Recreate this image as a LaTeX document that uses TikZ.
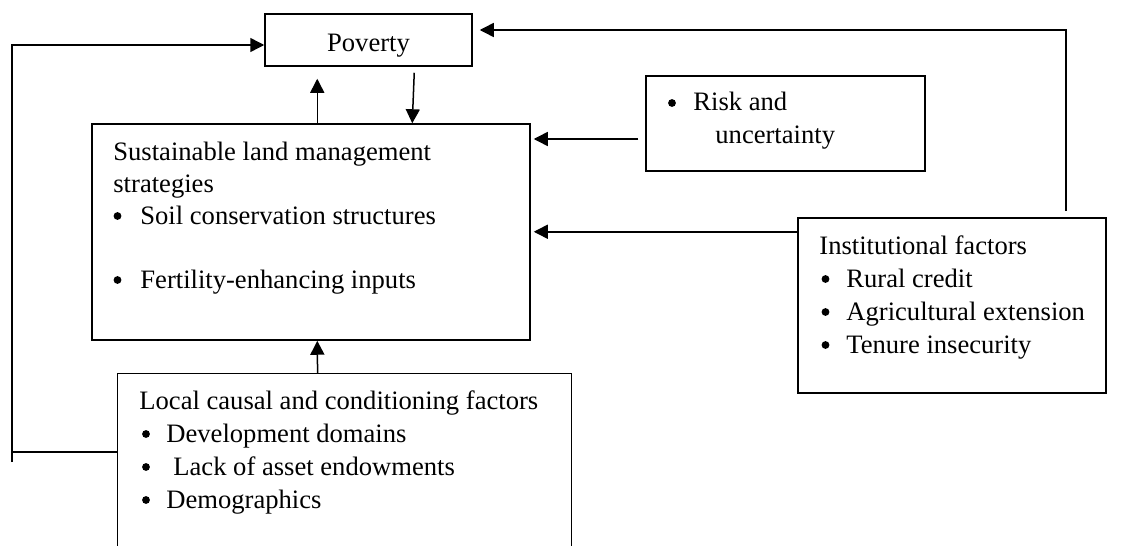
\documentclass[tikz,border=0pt]{standalone}
\usepackage{fontspec}
\setmainfont{Liberation Serif}
\usetikzlibrary{arrows.meta,calc}
\begin{document}
\begin{tikzpicture}[x=0.5pt,y=-0.5pt,
  box/.style={draw,line width=0.75pt,inner sep=0pt},
  openbox/.style={inner sep=0pt},
  arr/.style={line width=0.75pt,-{Triangle[length=7pt,width=7pt]}},
  conn/.style={line width=0.75pt},
  bul/.style={circle,fill,inner sep=0pt,minimum size=3.9pt},
  txt/.style={anchor=base west,inner sep=0pt,font=\fontsize{13.3}{16.5}\selectfont},
  ctxt/.style={anchor=base,inner sep=0pt,font=\fontsize{13.3}{16.5}\selectfont}]
\useasboundingbox (0,0) rectangle (1121,546);
% boxes
\node[box,minimum width=103.5pt,minimum height=26pt] (pov) at (368.5,40) {};
\node[box,minimum width=219pt,minimum height=108pt] (slm) at (311,232) {};
\node[box,minimum width=139.5pt,minimum height=47.5pt] (risk) at (785.5,123.5) {};
\node[box,minimum width=154pt,minimum height=87.5pt] (inst) at (952,305.5) {};
\node[openbox,minimum width=226.5pt,minimum height=86pt] (local) at (344.5,460) {};
\draw[conn] (local.south west) -- (local.north west) -- (local.north east) -- (local.south east);
% texts
\node[ctxt] (tpov) at (368.5,51) {Poverty};
\node[txt] (s1) at (113,160) {Sustainable land management};
\node[txt] (s2) at (113,192) {strategies};
\node[bul] (s3b) at (117.5,216) {};
\node[txt] (s3) at (140,224) {Soil conservation structures};
\node[bul] (s4b) at (117.5,280) {};
\node[txt] (s4) at (140,288) {Fertility-enhancing inputs};
\node[bul] (r1b) at (672,103) {};
\node[txt] (r1) at (693,111) {Risk and};
\node[txt] (r2) at (715,143) {uncertainty};
\node[txt] (i1) at (819,254) {Institutional factors};
\node[bul] (i2b) at (825.5,279) {};
\node[txt] (i2) at (846,287) {Rural credit};
\node[bul] (i3b) at (825.5,312) {};
\node[txt] (i3) at (846,320) {Agricultural extension};
\node[bul] (i4b) at (825.5,345) {};
\node[txt] (i4) at (846,353) {Tenure insecurity};
\node[txt] (l1) at (139,409) {Local causal and conditioning factors};
\node[bul] (l2b) at (146,434) {};
\node[txt] (l2) at (166,442) {Development domains};
\node[bul] (l3b) at (146,467) {};
\node[txt] (l3) at (173,475) {Lack of asset endowments};
\node[bul] (l4b) at (146,500) {};
\node[txt] (l4) at (166,508) {Demographics};
% connectors
\coordinate (lb) at (12,462);
\coordinate (lc) at (12,452);
\coordinate (rb) at (1066,211);
\draw[conn] (local.west |- lc) -- (lc);
\draw[arr] (lb) |- ($(pov.west)+(0,5)$);
\draw[arr] (rb) |- ($(pov.east)+(7,-10)$);
\draw[arr] ($(slm.north west)+(226,0)$) -- ($(pov.south west)+(53,12)$);
\draw[arr] ($(pov.south west)+(150,6)$) -- ($(slm.north west)+(321,0)$);
\draw[arr] ($(risk.west)+(-7,15.5)$) -- ($(slm.east |- risk.west)+(3,15.5)$);
\draw[arr] ($(inst.north west)+(0,14.5)$) -- ($(slm.east |- inst.north west)+(3,14.5)$);
\draw[arr] ($(local.north west)+(200,0)$) -- ($(slm.south west)+(226,0)$);
\end{tikzpicture}
\end{document}
